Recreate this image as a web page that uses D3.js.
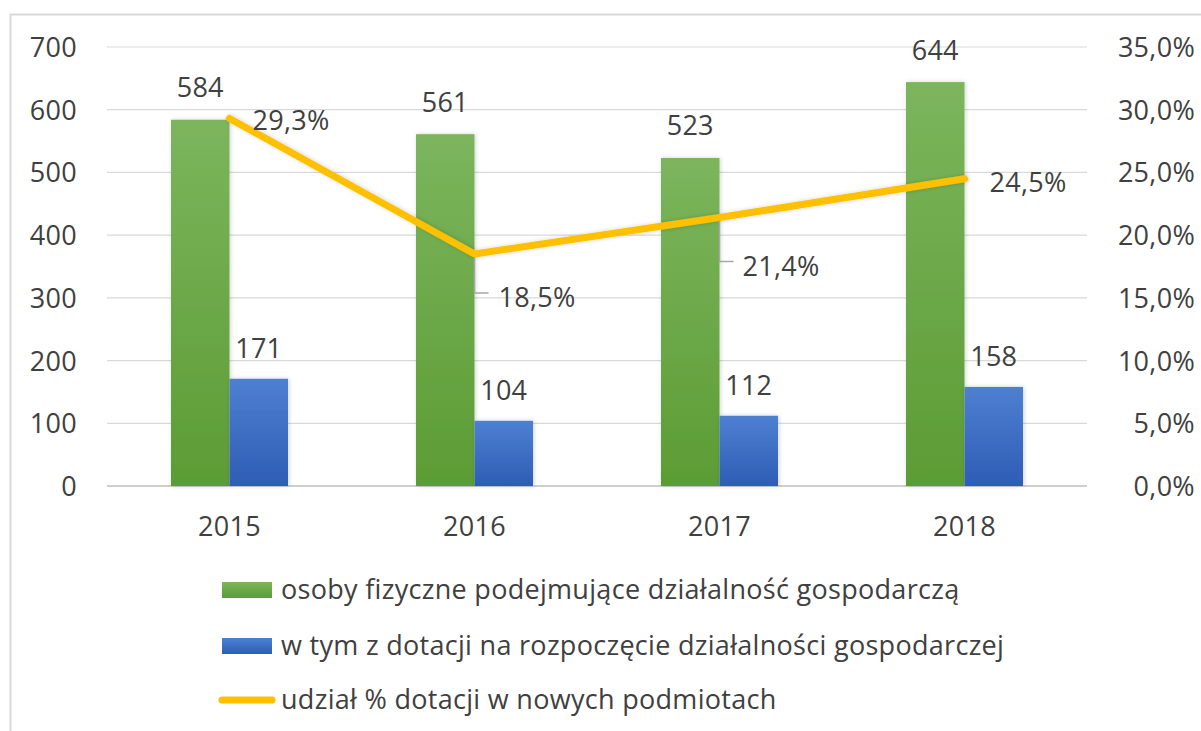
<!DOCTYPE html>
<html><head><meta charset="utf-8">
<script src="https://cdn.jsdelivr.net/npm/d3@7"></script>
<style>body{margin:0;background:#fff}svg{display:block}text{font-family:"Open Sans",sans-serif;fill:#404040;letter-spacing:0.3px}</style>
</head><body><svg id="c" width="1201" height="731"></svg>
<script>
const years = ["2015","2016","2017","2018"];
const osoby = [584,561,523,644];
const dotacje = [171,104,112,158];
const udzial = [29.3,18.5,21.4,24.5];
const leftTicks = [0,100,200,300,400,500,600,700];
const rightTicks = [0,5,10,15,20,25,30,35];
const legendLabels = ["osoby fizyczne podejmujące działalność gospodarczą","w tym z dotacji na rozpoczęcie działalności gospodarczej","udział % dotacji w nowych podmiotach"];

const FS = 27;
const svg = d3.select("#c");
const defs = svg.append("defs");
function grad(id,c1,c2){const g=defs.append("linearGradient").attr("id",id).attr("x1",0).attr("y1",0).attr("x2",0).attr("y2",1);
 g.append("stop").attr("offset","0%").attr("stop-color",c1);g.append("stop").attr("offset","100%").attr("stop-color",c2);}
grad("gg","#7cb55d","#5c9c34");
grad("gb","#4d80d1","#2e5db5");
const f=defs.append("filter").attr("id","sh").attr("x","-20%").attr("y","-5%").attr("width","140%").attr("height","110%");
f.append("feDropShadow").attr("dx",1).attr("dy",0).attr("stdDeviation",2).attr("flood-color","#000").attr("flood-opacity",0.18);

svg.append("rect").attr("x",10.5).attr("y",14.5).attr("width",1200).attr("height",730).attr("fill","none").attr("stroke","#d9d9d9").attr("stroke-width",2);

const x = d3.scaleBand().domain(years).range([107,1087]);
const xs = d3.scaleBand().domain(["a","b"]).range([0,117]);
const y = d3.scaleLinear().domain([0,700]).range([486,47]);
const y2 = d3.scaleLinear().domain([0,35]).range([486,47]);

// grid
svg.append("g").selectAll("line").data(leftTicks).join("line")
 .attr("x1",107).attr("x2",1087).attr("y1",d=>y(d)).attr("y2",d=>y(d))
 .attr("stroke",d=>d===0?"#bfbfbf":"#d9d9d9").attr("stroke-width",d=>d===0?1.5:1.2);

function style(sel){sel.attr("font-size",FS).attr("fill","#404040").attr("font-family","Open Sans");}
// left axis
const la = svg.append("g").attr("transform","translate(77,0)").call(d3.axisLeft(y).tickValues(leftTicks).tickSize(0).tickPadding(0));
la.select(".domain").remove();
la.selectAll("text").call(style).attr("dy","0.35em");
// right axis
const ra = svg.append("g").attr("transform","translate(1195,0)").call(d3.axisLeft(y2).tickValues(rightTicks).tickSize(0).tickPadding(0).tickFormat(d=>d3.format(".1f")(d).replace(".",",")+"%"));
ra.select(".domain").remove();
ra.selectAll("text").call(style).attr("dy","0.35em");
// x axis
const xa = svg.append("g").attr("transform","translate(0,527)").call(d3.axisBottom(x).tickSize(0).tickPadding(0));
xa.select(".domain").remove();
xa.selectAll("text").call(style).attr("dy","0.35em");

const off = (x.bandwidth()-117)/2;
const bars = svg.append("g");
bars.selectAll(".g").data(years).join("rect")
 .attr("x",(d)=>x(d)+off+xs("a")).attr("width",xs.bandwidth())
 .attr("y",(d,i)=>y(osoby[i])).attr("height",(d,i)=>y(0)-y(osoby[i]))
 .attr("fill","url(#gg)").attr("filter","url(#sh)");
bars.selectAll(".b").data(years).join("rect")
 .attr("x",(d)=>x(d)+off+xs("b")).attr("width",xs.bandwidth())
 .attr("y",(d,i)=>y(dotacje[i])).attr("height",(d,i)=>y(0)-y(dotacje[i]))
 .attr("fill","url(#gb)").attr("filter","url(#sh)");

// value labels
svg.append("g").selectAll("text").data(years).join("text")
 .attr("x",d=>x(d)+off+xs("a")+xs.bandwidth()/2).attr("y",(d,i)=>y(osoby[i])-32).attr("dy","0.35em")
 .attr("text-anchor","middle").attr("font-size",FS).text((d,i)=>osoby[i]);
svg.append("g").selectAll("text").data(years).join("text")
 .attr("x",d=>x(d)+off+xs("b")+xs.bandwidth()/2).attr("y",(d,i)=>y(dotacje[i])-30).attr("dy","0.35em")
 .attr("text-anchor","middle").attr("font-size",FS).text((d,i)=>dotacje[i]);

// line
const cx = d=>x(d)+x.bandwidth()/2;
const line = d3.line().x((d,i)=>cx(years[i])).y(d=>y2(d));
svg.append("path").datum(udzial).attr("d",line).attr("fill","none").attr("stroke","#ffc000").attr("stroke-width",7).attr("stroke-linecap","round").attr("stroke-linejoin","round").attr("filter","url(#sh)");

// percent labels
const fmt = v=>d3.format(".1f")(v).replace(".",",")+"%";
const lblOff = [[23,2,false],[24,44,true],[23,49,true],[25,4,false]];
const pl = svg.append("g");
udzial.forEach((v,i)=>{
  const px=cx(years[i]), py=y2(v);
  const [dx,dy,lead]=lblOff[i];
  if(lead){
    pl.append("path").attr("d",`M${px},${py+3}V${py+dy-5}H${px+14}`).attr("fill","none").attr("stroke","#a6a6a6").attr("stroke-width",1.5);
  }
  pl.append("text").attr("x",px+dx).attr("y",py+dy).attr("dy","0.35em").attr("font-size",FS).text(fmt(v));
});

// legend
const lg = svg.append("g");
const ly = [590,646,700];
lg.append("rect").attr("x",222).attr("y",ly[0]-8).attr("width",50).attr("height",16).attr("fill","url(#gg)");
lg.append("rect").attr("x",222).attr("y",ly[1]-8).attr("width",50).attr("height",16).attr("fill","url(#gb)");
lg.append("line").attr("x1",222).attr("x2",272).attr("y1",ly[2]).attr("y2",ly[2]).attr("stroke","#ffc000").attr("stroke-width",7).attr("stroke-linecap","round");
legendLabels.forEach((t,i)=>lg.append("text").attr("x",281).attr("y",ly[i]).attr("dy","0.35em").attr("font-size",FS).text(t));
</script></body></html>
